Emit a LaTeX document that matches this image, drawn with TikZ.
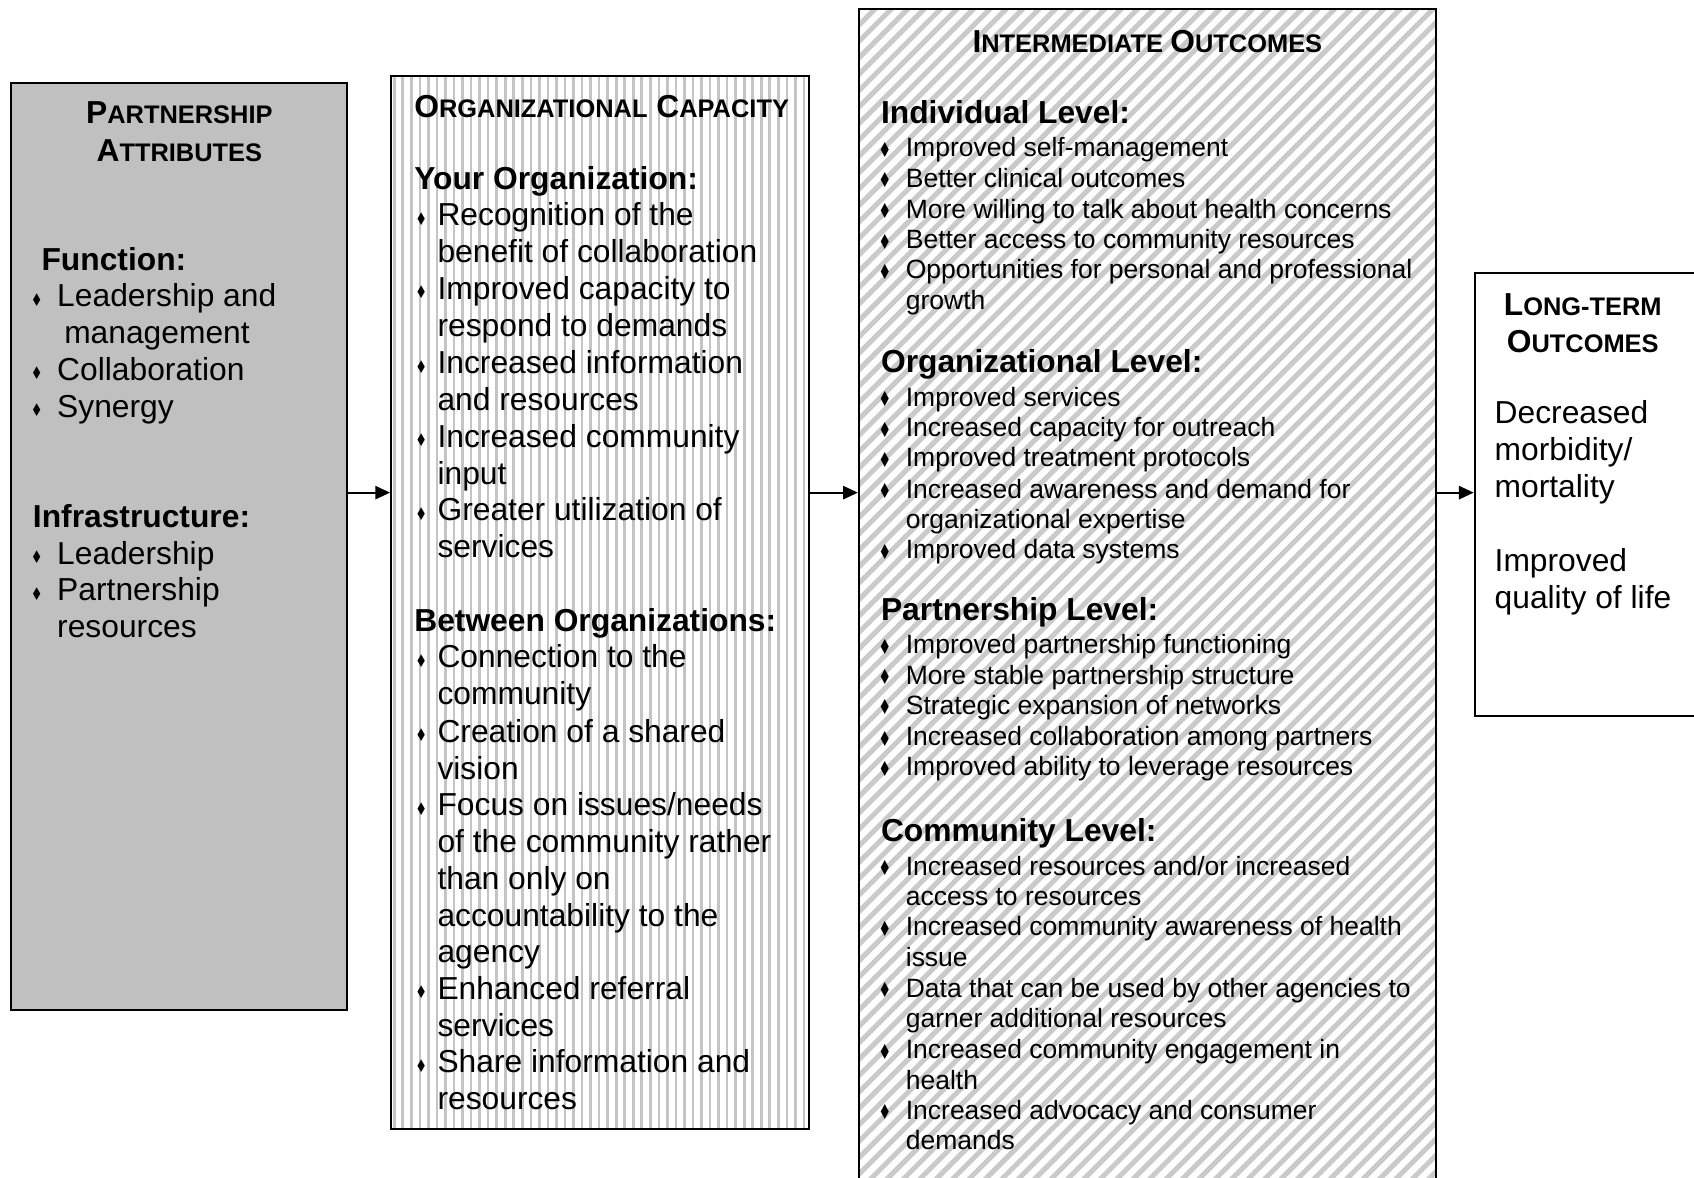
\documentclass[tikz,border=0pt]{standalone}
\usepackage{fontspec}
\usepackage{graphicx}
\setmainfont{Liberation Sans}
\newfontfamily\symf{DejaVu Sans}
\usetikzlibrary{arrows.meta,calc}
\definecolor{boxgray}{RGB}{192,192,192}
\definecolor{vgray}{RGB}{196,196,196}
\definecolor{dgray}{RGB}{202,202,202}
\newcount\tlc
\newcommand\bodyA{\fontsize{12}{14}\selectfont}
\newcommand\bodyC{\fontsize{10}{12}\selectfont}
\newcommand\smc[2]{{\fontsize{12}{14}\selectfont #1}{\fontsize{9.6}{12}\selectfont #2}}
\newcommand\bgA{{\symf\fontsize{6.6}{7}\selectfont\scalebox{0.75}[1]{♦}}}
\newcommand\bgC{{\symf\fontsize{7.8}{8}\selectfont\scalebox{0.7}[1]{♦}}}
\newcommand\tl[3]{\global\advance\tlc by 1\relax\node[txt] (t\the\tlc) at (#1,#2) {#3};}
\newcommand\bu[4]{\global\advance\tlc by 1\relax\node[bul] (t\the\tlc) at (#1,#3) {\bglyph};%
  \global\advance\tlc by 1\relax\node[txt] (t\the\tlc) at (#2,#3) {#4};}
\begin{document}
\begin{tikzpicture}[x=0.408pt,y=-0.408pt,
  box/.style={draw=black,line width=0.75pt,inner sep=0pt,rectangle},
  txt/.style={anchor=mid west,inner sep=0pt,yshift=-1.5pt,font=\bodyA},
  ctr/.style={anchor=mid,inner sep=0pt,yshift=-1.5pt,font=\bfseries},
  bul/.style={anchor=center,inner sep=0pt,yshift=-1.5pt},
  vstripe/.style={draw=vgray,line width=1pt},
  dstripe/.style={draw=dgray,line width=1.9pt},
  arr/.style={draw=black,line width=0.8pt,-{Triangle[length=5.6pt,width=5pt]}}]
\useasboundingbox (0,0) rectangle (1568,1090);
\clip (0,0) rectangle (1568,1090);
% boxes
\node[box,fill=boxgray,minimum width=311*0.408pt,minimum height=858*0.408pt] (A) at (165.5,506) {};
\node[box,fill=white,minimum width=387*0.408pt,minimum height=975*0.408pt,
  path picture={\foreach \i in {0,...,49}{\draw[vstripe] ([xshift=\i*7.9*0.408pt+1.2pt]path picture bounding box.north west) -- ([xshift=\i*7.9*0.408pt+1.2pt]path picture bounding box.south west);}}] (B) at (555.5,557.5) {};
\node[box,fill=white,minimum width=534*0.408pt,minimum height=1102*0.408pt,
  path picture={\foreach \i in {0,...,112}{\draw[dstripe] ([xshift=\i*6.2pt]path picture bounding box.north west) -- ++(-470pt,-470pt);}}] (C) at (1062,559) {};
\node[box,fill=white,minimum width=215*0.408pt,minimum height=410*0.408pt] (D) at (1472.5,458) {};
% arrows
\coordinate (ay) at (0,456);
\draw[arr] (A.east |- ay) -- (B.west |- ay);
\draw[arr] (B.east |- ay) -- (C.west |- ay);
\draw[arr] (C.east |- ay) -- (D.west |- ay);
% Box A
\node[ctr] (hA1) at (166,104) {\smc{P}{ARTNERSHIP}};
\node[ctr] (hA2) at (166,139) {\smc{A}{TTRIBUTES}};
\let\bglyph\bgA
\tl{38}{240}{\bfseries Function:}
\bu{34}{52.5}{274}{Leadership and}
\tl{59}{308}{management}
\bu{34}{52.5}{342}{Collaboration}
\bu{34}{52.5}{376}{Synergy}
\tl{30}{478}{\bfseries Infrastructure:}
\bu{34}{52.5}{512}{Leadership}
\bu{34}{52.5}{546}{Partnership}
\tl{52.5}{580}{resources}
% Box B
\tl{383}{99}{\bfseries\smc{O}{RGANIZATIONAL} \smc{C}{APACITY}}
\tl{383}{165}{\bfseries Your Organization:}
\bu{390}{404.5}{199}{Recognition of the}
\tl{404.5}{233}{benefit of collaboration}
\bu{390}{404.5}{267}{Improved capacity to}
\tl{404.5}{301}{respond to demands}
\bu{390}{404.5}{336}{Increased information}
\tl{404.5}{370}{and resources}
\bu{390}{404.5}{404}{Increased community}
\tl{404.5}{438}{input}
\bu{390}{404.5}{472}{Greater utilization of}
\tl{404.5}{506}{services}
\tl{383}{574}{\bfseries Between Organizations:}
\bu{390}{404.5}{608}{Connection to the}
\tl{404.5}{642}{community}
\bu{390}{404.5}{677}{Creation of a shared}
\tl{404.5}{711}{vision}
\bu{390}{404.5}{745}{Focus on issues/needs}
\tl{404.5}{779}{of the community rather}
\tl{404.5}{813}{than only on}
\tl{404.5}{847}{accountability to the}
\tl{404.5}{881}{agency}
\bu{390}{404.5}{915}{Enhanced referral}
\tl{404.5}{949}{services}
\bu{390}{404.5}{983}{Share information and}
\tl{404.5}{1017}{resources}
% Box C
\node[ctr] (hC) at (1062,38) {\smc{I}{NTERMEDIATE} \smc{O}{UTCOMES}};
\tl{815}{104}{\bfseries Individual Level:}
\tl{815}{335}{\bfseries Organizational Level:}
\tl{815}{564}{\bfseries Partnership Level:}
\tl{815}{769}{\bfseries Community Level:}
\begin{scope}[txt/.append style={font=\bodyC}]
\let\bglyph\bgC
\bu{819}{838}{135}{Improved self-management}
\bu{819}{838}{163}{Better clinical outcomes}
\bu{819}{838}{192}{More willing to talk about health concerns}
\bu{819}{838}{220}{Better access to community resources}
\bu{819}{838}{248}{Opportunities for personal and professional}
\tl{838}{276}{growth}
\bu{819}{838}{366}{Improved services}
\bu{819}{838}{394}{Increased capacity for outreach}
\bu{819}{838}{422}{Improved treatment protocols}
\bu{819}{838}{451}{Increased awareness and demand for}
\tl{838}{479}{organizational expertise}
\bu{819}{838}{507}{Improved data systems}
\bu{819}{838}{595}{Improved partnership functioning}
\bu{819}{838}{623}{More stable partnership structure}
\bu{819}{838}{651}{Strategic expansion of networks}
\bu{819}{838}{680}{Increased collaboration among partners}
\bu{819}{838}{708}{Improved ability to leverage resources}
\bu{819}{838}{800}{Increased resources and/or increased}
\tl{838}{828}{access to resources}
\bu{819}{838}{856}{Increased community awareness of health}
\tl{838}{884}{issue}
\bu{819}{838}{913}{Data that can be used by other agencies to}
\tl{838}{941}{garner additional resources}
\bu{819}{838}{970}{Increased community engagement in}
\tl{838}{998}{health}
\bu{819}{838}{1026}{Increased advocacy and consumer}
\tl{838}{1054}{demands}
\end{scope}
% Box D
\node[ctr] (hD1) at (1465,282) {\smc{L}{ONG-TERM}};
\node[ctr] (hD2) at (1465,316) {\smc{O}{UTCOMES}};
\tl{1383}{382}{Decreased}
\tl{1383}{416}{morbidity/}
\tl{1383}{450}{mortality}
\tl{1383}{519}{Improved}
\tl{1383}{553}{quality of life}
\end{tikzpicture}
\end{document}
